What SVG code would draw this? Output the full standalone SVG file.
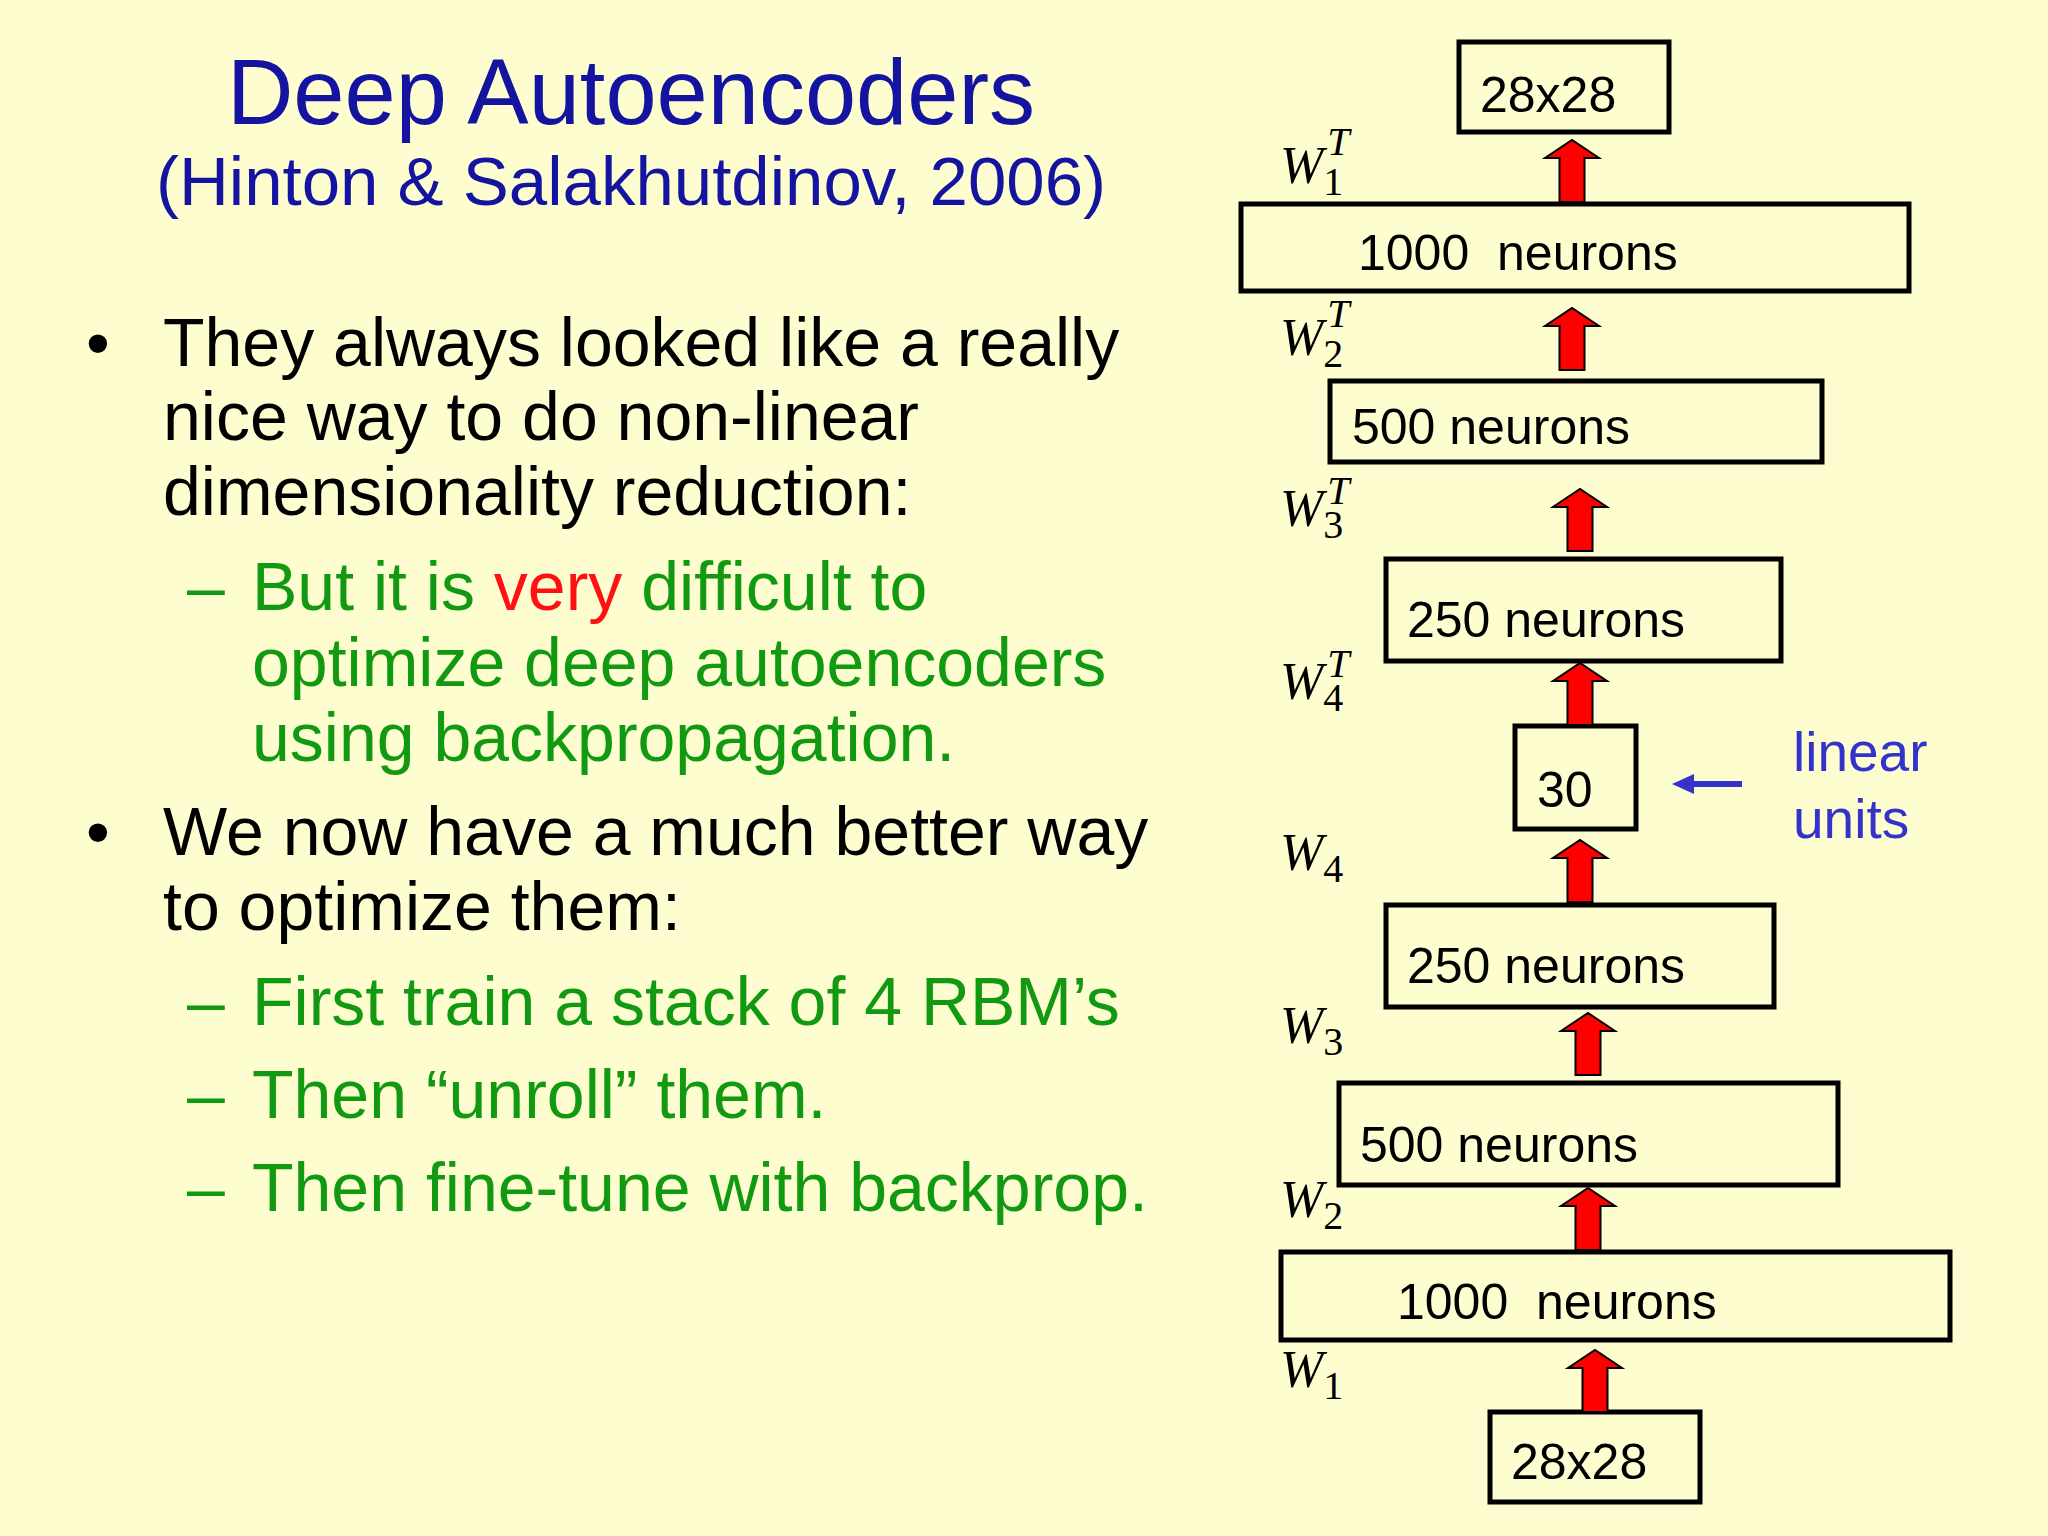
<svg xmlns="http://www.w3.org/2000/svg" width="2048" height="1536" viewBox="0 0 2048 1536">
<defs>
<style>
.bx{fill:none;stroke:#000;stroke-width:5}
.lb{font-family:"Liberation Sans",Arial,sans-serif;font-size:50px;fill:#000;white-space:pre}
.w{font-family:"Liberation Serif","Times New Roman",serif;font-style:italic;font-size:52px;fill:#000}
.sub{font-style:normal;font-size:40px}
.sup{font-style:italic;font-size:40px}
.t{font-family:"Liberation Sans",Arial,sans-serif;font-size:68px;fill:#000}
.g{fill:#119911}
.ar{fill:#ff0000;stroke:#000;stroke-width:2}
</style>
<path id="arr" d="M-12.5,0 V-44 H-27 L0,-62 L27,-44 H12.5 V0 Z"/>
</defs>
<rect width="2048" height="1536" fill="#fdfdd0"/>
<g id="title">
<text x="631" y="124" text-anchor="middle" font-family="Liberation Sans,Arial,sans-serif" font-size="92" fill="#1414a0">Deep Autoencoders</text>
<text x="631" y="205" text-anchor="middle" font-family="Liberation Sans,Arial,sans-serif" font-size="69" fill="#1414a0">(Hinton &amp; Salakhutdinov, 2006)</text>
</g>
<g id="bullets">
<text x="86" y="366" class="t">•</text>
<text x="163" y="366" class="t">They always looked like a really</text>
<text x="163" y="440" class="t">nice way to do non-linear</text>
<text x="163" y="515" class="t">dimensionality reduction:</text>
<text x="187" y="610" class="t g">–</text>
<text x="252" y="610" class="t g">But it is <tspan fill="#ff1111">very</tspan> difficult to</text>
<text x="252" y="686" class="t g">optimize deep autoencoders</text>
<text x="252" y="761" class="t g">using backpropagation.</text>
<text x="86" y="855" class="t">•</text>
<text x="163" y="855" class="t">We now have a much better way</text>
<text x="163" y="930" class="t">to optimize them:</text>
<text x="187" y="1025" class="t g">–</text>
<text x="252" y="1025" class="t g">First train a stack of 4 RBM’s</text>
<text x="187" y="1118" class="t g">–</text>
<text x="252" y="1118" class="t g">Then “unroll” them.</text>
<text x="187" y="1211" class="t g">–</text>
<text x="252" y="1211" class="t g">Then fine-tune with backprop.</text>
</g>
<g id="n_top28"><rect class="bx" x="1459" y="42" width="210" height="90"/><text class="lb" x="1480" y="112" font-size="63">28x28</text></g>
<g id="n_1000t"><rect class="bx" x="1241" y="204" width="668" height="87"/><text class="lb" x="1358" y="270">1000  neurons</text></g>
<g id="n_500t"><rect class="bx" x="1330" y="381" width="492" height="81"/><text class="lb" x="1352" y="444">500 neurons</text></g>
<g id="n_250t"><rect class="bx" x="1386" y="559" width="395" height="102"/><text class="lb" x="1407" y="637">250 neurons</text></g>
<g id="n_30"><rect class="bx" x="1515" y="726" width="121" height="103"/><text class="lb" x="1537" y="807">30</text></g>
<g id="n_250b"><rect class="bx" x="1386" y="905" width="388" height="102"/><text class="lb" x="1407" y="983">250 neurons</text></g>
<g id="n_500b"><rect class="bx" x="1339" y="1083" width="499" height="102"/><text class="lb" x="1360" y="1162">500 neurons</text></g>
<g id="n_1000b"><rect class="bx" x="1281" y="1252" width="669" height="88"/><text class="lb" x="1397" y="1319">1000  neurons</text></g>
<g id="n_bot28"><rect class="bx" x="1490" y="1412" width="210" height="90"/><text class="lb" x="1511" y="1479" font-size="63">28x28</text></g>
<g id="connectors">
<use href="#arr" class="ar" x="1572" y="202"/>
<use href="#arr" class="ar" x="1572" y="370"/>
<use href="#arr" class="ar" x="1580" y="551"/>
<use href="#arr" class="ar" x="1580" y="725"/>
<use href="#arr" class="ar" x="1580" y="902"/>
<use href="#arr" class="ar" x="1588" y="1075"/>
<use href="#arr" class="ar" x="1588" y="1250"/>
<use href="#arr" class="ar" x="1595" y="1412"/>
<path d="M1742,784 H1690" stroke="#3333cc" stroke-width="6"/>
<path d="M1672,784 L1694,774 L1694,794 Z" fill="#3333cc"/>
</g>
<g id="weights">
<text class="w" x="1280" y="183">W<tspan class="sub" dy="12">1</tspan><tspan class="sup" dx="-16" dy="-40">T</tspan></text>
<text class="w" x="1280" y="355">W<tspan class="sub" dy="12">2</tspan><tspan class="sup" dx="-16" dy="-40">T</tspan></text>
<text class="w" x="1280" y="526">W<tspan class="sub" dy="12">3</tspan><tspan class="sup" dx="-16" dy="-34">T</tspan></text>
<text class="w" x="1280" y="699">W<tspan class="sub" dy="12">4</tspan><tspan class="sup" dx="-16" dy="-34">T</tspan></text>
<text class="w" x="1280" y="870">W<tspan class="sub" dy="12">4</tspan></text>
<text class="w" x="1280" y="1043">W<tspan class="sub" dy="12">3</tspan></text>
<text class="w" x="1280" y="1217">W<tspan class="sub" dy="12">2</tspan></text>
<text class="w" x="1280" y="1387">W<tspan class="sub" dy="12">1</tspan></text>
</g>
<g id="linear">
<text x="1793" y="771" font-family="Liberation Sans,Arial,sans-serif" font-size="55" fill="#3333cc">linear</text>
<text x="1793" y="838" font-family="Liberation Sans,Arial,sans-serif" font-size="55" fill="#3333cc">units</text>
</g>
</svg>
